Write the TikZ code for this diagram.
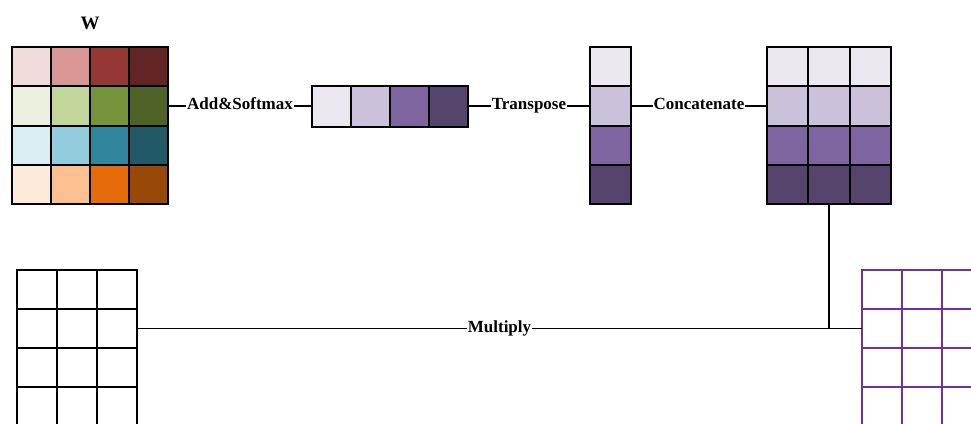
\documentclass[tikz,border=0pt]{standalone}
\usepackage{fontspec}
\setmainfont{Liberation Serif}
\usetikzlibrary{positioning}
\definecolor{red1}{HTML}{F2DCDB}\definecolor{red2}{HTML}{D99694}\definecolor{red3}{HTML}{953735}\definecolor{red4}{HTML}{632523}
\definecolor{green1}{HTML}{EBF1DE}\definecolor{green2}{HTML}{C3D69B}\definecolor{green3}{HTML}{77933C}\definecolor{green4}{HTML}{4F6228}
\definecolor{aqua1}{HTML}{DBEEF3}\definecolor{aqua2}{HTML}{93CDDD}\definecolor{aqua3}{HTML}{31859C}\definecolor{aqua4}{HTML}{215967}
\definecolor{orange1}{HTML}{FDEADA}\definecolor{orange2}{HTML}{FAC090}\definecolor{orange3}{HTML}{E46C0A}\definecolor{orange4}{HTML}{984807}
\definecolor{purp1}{HTML}{EBE8F0}\definecolor{purp2}{HTML}{CCC1DB}\definecolor{purp3}{HTML}{7F65A0}\definecolor{purp4}{HTML}{55446B}
\definecolor{gridviolet}{HTML}{7030A0}
\begin{document}
\begin{tikzpicture}[x=1pt,y=-1pt,
  cell/.style={draw=black,line width=2pt,inner sep=0pt,outer sep=0pt,minimum width=39pt,minimum height=39.3pt},
  link/.style={line width=1.8pt},
  lbl/.style={fill=white,inner xsep=1pt,inner ysep=1pt,anchor=base,yshift=-3.5pt,font=\bfseries\fontsize{17}{20}\selectfont}]
\useasboundingbox (0,0) rectangle (971,423);
\clip (0,0) rectangle (971,423);
\node[font=\bfseries\fontsize{19}{22}\selectfont] (wlabel) at (90,23) {W};
\foreach \r/\row in {1/red,2/green,3/aqua,4/orange}{
  \foreach \c in {1,...,4}{\node[cell,fill=\row\c] (w-\r-\c) at ({12+39*\c-19.5},{47+39.3*\r-19.65}) {};}}
\foreach \c in {1,...,4}{\node[cell,fill=purp\c,minimum height=41pt] (v-\c) at ({312+39*\c-19.5},106) {};}
\foreach \r in {1,...,4}{\node[cell,fill=purp\r,minimum width=41pt] (t-\r) at (610.5,{47+39.3*\r-19.65}) {};}
\foreach \r in {1,...,4}{
  \foreach \c in {1,2,3}{\node[cell,fill=purp\r,minimum width=41.3pt] (c-\r-\c) at ({767+41.3*\c-20.65},{47+39.3*\r-19.65}) {};}}
\foreach \r in {1,...,4}{
  \foreach \c in {1,2,3}{\node[cell,minimum width=40pt,minimum height=39pt] (m-\r-\c) at ({17+40*\c-20},{270+39*\r-19.5}) {};}}
\foreach \r in {1,...,4}{
  \foreach \c in {1,2,3}{\node[cell,draw=gridviolet,minimum width=40pt,minimum height=39pt] (o-\r-\c) at ({862+40*\c-20},{270+39*\r-19.5}) {};}}
\draw[link] (w-2-4) -- node[lbl] {Add\&Softmax} (v-1);
\draw[link] (v-4) -- node[lbl] {Transpose} (t-2);
\draw[link] (t-2) -- node[lbl] {Concatenate} (c-2-1);
\draw[link] (m-2-3) -- node[lbl] {Multiply} (o-2-1);
\coordinate (join) at (c-4-2 |- o-2-1);
\draw[link] (c-4-2) -- (join);
\end{tikzpicture}
\end{document}
